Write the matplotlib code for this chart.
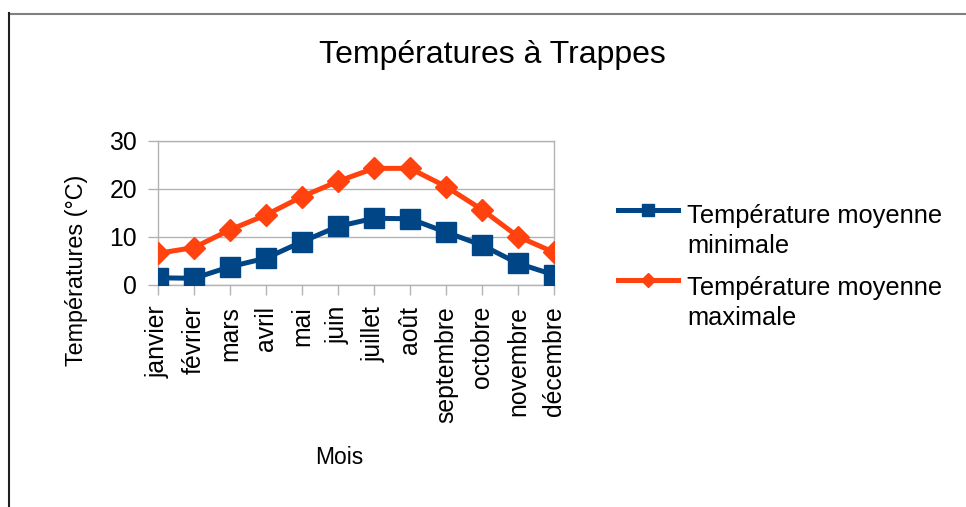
import matplotlib.pyplot as plt
from matplotlib.lines import Line2D

plt.rcParams["font.family"] = ["Liberation Sans", "DejaVu Sans"]

# Data
mois = ["janvier", "février", "mars", "avril", "mai", "juin", "juillet",
        "août", "septembre", "octobre", "novembre", "décembre"]
temp_min = [1.5, 1.4, 3.8, 5.6, 9.0, 12.2, 13.9, 13.8, 11.0, 8.3, 4.5, 2.1]
temp_max = [6.6, 7.8, 11.5, 14.6, 18.4, 21.6, 24.3, 24.3, 20.5, 15.7, 10.1, 6.8]
y_ticks = [0, 10, 20, 30]
labels = ["Température moyenne\nminimale", "Température moyenne\nmaximale"]

W, H = 966, 507
blue = "#004586"
orange = "#ff420e"
grey = "#b3b3b3"


def fx(px):
    return px / W


def fy(py):
    return 1 - py / H


fig = plt.figure(figsize=(W / 100, H / 100), dpi=100)
ax = fig.add_axes([fx(158), fy(285), fx(554) - fx(158), fy(141) - fy(285)])

x = list(range(len(mois)))
ax.plot(x, temp_min, color=blue, lw=3.6, marker="s", ms=14.5, zorder=3)
ax.plot(x, temp_max, color=orange, lw=3.6, marker="D", ms=11.5, zorder=3)

ax.set_xlim(0, len(mois) - 1)
ax.set_ylim(0, 30)
ax.set_yticks(y_ticks)
ax.set_xticks(x)
ax.set_xticklabels(mois, rotation=90, ha="center", va="top")
ax.tick_params(axis="both", labelsize=17.8, color=grey, length=7, width=1)
ax.tick_params(axis="y", pad=8)
ax.tick_params(axis="x", pad=8)
ax.grid(axis="y", color=grey, lw=1)
ax.set_axisbelow(True)
for s in ax.spines.values():
    s.set_color(grey)
    s.set_linewidth(1)

# axis titles and chart title
fig.text(fx(492), fy(63), "Températures à Trappes", fontsize=23,
         ha="center", va="baseline")
fig.text(fx(339), fy(458), "Mois", fontsize=16.5, ha="center", va="center")
fig.text(fx(77), fy(270), "Températures (°C)", fontsize=16.8,
         rotation=90, ha="center", va="center")

# legend drawn by hand to keep the handle on the first text line
entries = [(blue, "s", 210, 223), (orange, "D", 280, 295)]
for (col, mk, yl, yb), lab in zip(entries, labels):
    fig.add_artist(Line2D([fx(618), fx(678)], [fy(yl), fy(yl)], color=col, lw=3.6))
    fig.add_artist(Line2D([fx(648)], [fy(yl)], color=col, marker=mk,
                          ms=9 if mk == "s" else 7.5, lw=0))
    for i, part in enumerate(lab.split("\n")):
        fig.text(fx(687), fy(yb + 30 * i), part, fontsize=18.3, va="baseline")

# outer frame
fig.add_artist(Line2D([fx(9), fx(W)], [fy(13.5), fy(13.5)], color="#808080", lw=1.5))
fig.add_artist(Line2D([fx(9), fx(9)], [fy(13), fy(H)], color="#202020", lw=1.5))

fig.savefig("out.png", dpi=100)
